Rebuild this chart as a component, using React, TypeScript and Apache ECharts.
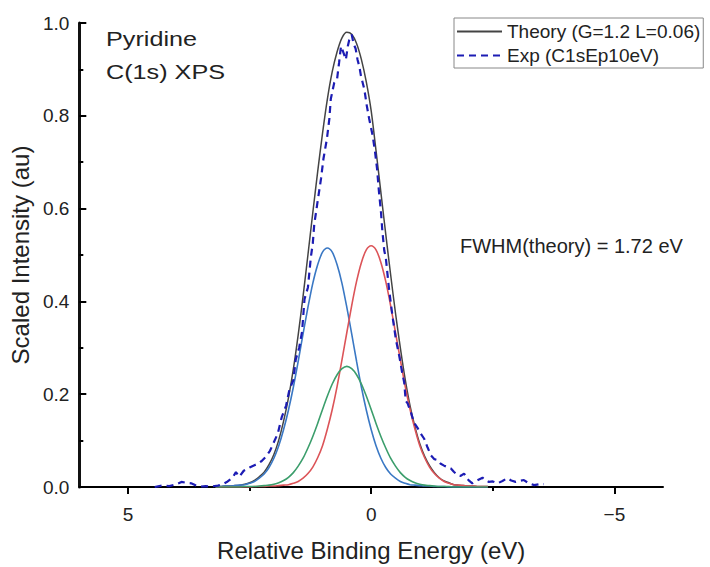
import React, { useEffect, useRef } from "react";
import * as echarts from "echarts";

// Relative binding energy grid for the theory curves (eV)
const energyGrid = [
  3.2, 3.1, 3.0, 2.9, 2.8, 2.7, 2.6, 2.5, 2.4, 2.3, 2.2, 2.1, 2.0, 1.9, 1.8, 1.7, 1.6, 1.5, 1.4,
  1.3, 1.2, 1.1, 1.0, 0.9, 0.8, 0.7, 0.6, 0.5, 0.4, 0.3, 0.2, 0.1, 0.0, -0.1, -0.2, -0.3, -0.4,
  -0.5, -0.6, -0.7, -0.8, -0.9, -1.0, -1.1, -1.2, -1.3, -1.4, -1.5, -1.6, -1.7, -1.8, -1.9, -2.0,
  -2.1, -2.2, -2.3, -2.4,
];

const theory = [
  0.001, 0.001, 0.002, 0.002, 0.003, 0.004, 0.006, 0.009, 0.014, 0.022, 0.032, 0.048, 0.07, 0.101,
  0.142, 0.192, 0.254, 0.328, 0.411, 0.5, 0.591, 0.679, 0.762, 0.836, 0.895, 0.938, 0.968, 0.98,
  0.976, 0.956, 0.921, 0.873, 0.811, 0.725, 0.635, 0.545, 0.458, 0.375, 0.3, 0.232, 0.175, 0.13,
  0.093, 0.066, 0.046, 0.031, 0.02, 0.013, 0.009, 0.005, 0.004, 0.003, 0.002, 0.002, 0.001, 0.001,
  0.001,
];

const peakBlue = [
  0.001, 0.001, 0.002, 0.002, 0.003, 0.004, 0.005, 0.008, 0.012, 0.019, 0.028, 0.042, 0.062, 0.089,
  0.124, 0.166, 0.215, 0.271, 0.33, 0.387, 0.439, 0.479, 0.506, 0.515, 0.506, 0.479, 0.439, 0.387,
  0.33, 0.271, 0.215, 0.166, 0.124, 0.089, 0.062, 0.042, 0.028, 0.019, 0.012, 0.008, 0.005, 0.004,
  0.003, 0.002, 0.002, 0.001, 0.001, 0.001, 0, 0, 0, 0, 0, 0, 0, 0, 0,
];

const peakRed = [
  0, 0, 0, 0, 0, 0, 0, 0, 0.001, 0.001, 0.001, 0.002, 0.002, 0.003, 0.004, 0.005, 0.008, 0.012,
  0.019, 0.029, 0.043, 0.063, 0.089, 0.125, 0.167, 0.217, 0.274, 0.333, 0.391, 0.443, 0.484, 0.511,
  0.52, 0.511, 0.484, 0.443, 0.391, 0.333, 0.274, 0.217, 0.167, 0.125, 0.089, 0.063, 0.043, 0.029,
  0.019, 0.012, 0.008, 0.005, 0.004, 0.003, 0.002, 0.002, 0.001, 0.001, 0.001,
];

const peakGreen = [
  0, 0, 0, 0, 0, 0, 0.001, 0.001, 0.001, 0.002, 0.003, 0.004, 0.006, 0.009, 0.014, 0.021, 0.031,
  0.045, 0.062, 0.084, 0.109, 0.137, 0.167, 0.196, 0.222, 0.242, 0.255, 0.26, 0.255, 0.242, 0.222,
  0.196, 0.167, 0.137, 0.109, 0.084, 0.062, 0.045, 0.031, 0.021, 0.014, 0.009, 0.006, 0.004, 0.003,
  0.002, 0.001, 0.001, 0.001, 0, 0, 0, 0, 0, 0, 0, 0,
];

// Experimental spectrum (C1s, Ep 10 eV)
const expEnergy = [
  4.45, 4.3, 4.15, 4.0, 3.9, 3.8, 3.7, 3.6, 3.5, 3.4, 3.3, 3.15, 3.05, 2.95, 2.85, 2.78, 2.71, 2.62,
  2.5, 2.4, 2.33, 2.25, 2.16, 2.08, 2.02, 1.92, 1.84, 1.75, 1.68, 1.6, 1.55, 1.48, 1.42, 1.37, 1.3,
  1.24, 1.2, 1.17, 1.1, 1.03, 0.98, 0.91, 0.86, 0.83, 0.76, 0.7, 0.66, 0.62, 0.59, 0.55, 0.52, 0.48,
  0.45, 0.4, 0.36, 0.32, 0.28, 0.24, 0.21, 0.14, 0.09, 0.04, -0.03, -0.08, -0.12, -0.16, -0.2,
  -0.23, -0.27, -0.3, -0.37, -0.44, -0.51, -0.58, -0.64, -0.68, -0.71, -0.75, -0.82, -0.88, -0.95,
  -1.02, -1.09, -1.16, -1.23, -1.3, -1.37, -1.43, -1.5, -1.57, -1.64, -1.7, -1.77, -1.84, -1.91,
  -2.0, -2.08, -2.18, -2.29, -2.36, -2.42, -2.5, -2.6, -2.7, -2.8, -2.88, -2.97, -3.05, -3.14,
  -3.24, -3.35, -3.45, -3.55,
];

const expIntensity = [
  0.0, 0.003, 0.002, 0.006, 0.011, 0.009, 0.008, 0.003, 0.001, 0.002, 0.001, 0.003, 0.006, 0.012,
  0.02, 0.032, 0.022, 0.035, 0.042, 0.047, 0.05, 0.056, 0.066, 0.078, 0.092, 0.115, 0.15, 0.175,
  0.21, 0.23, 0.275, 0.3, 0.335, 0.405, 0.43, 0.495, 0.525, 0.566, 0.616, 0.665, 0.708, 0.75, 0.793,
  0.836, 0.871, 0.88, 0.914, 0.95, 0.942, 0.93, 0.921, 0.95, 0.964, 0.975, 0.955, 0.945, 0.921,
  0.905, 0.886, 0.857, 0.822, 0.793, 0.758, 0.722, 0.687, 0.637, 0.595, 0.552, 0.509, 0.495, 0.424,
  0.367, 0.317, 0.281, 0.245, 0.225, 0.186, 0.18, 0.16, 0.139, 0.128, 0.115, 0.104, 0.085, 0.068,
  0.06, 0.058, 0.05, 0.046, 0.043, 0.04, 0.033, 0.026, 0.024, 0.029, 0.015, 0.008, 0.014, 0.02,
  0.014, 0.011, 0.012, 0.008, 0.013, 0.019, 0.014, 0.011, 0.013, 0.015, 0.008, 0.004, 0.006, 0.006,
];

const xLabelValues = [5, 0, -5];
const xMinorValues = [2.5, -2.5];

const THEORY_NAME = "Theory (G=1.2 L=0.06)";
const EXP_NAME = "Exp (C1sEp10eV)";
const FONT = "'Liberation Sans', Arial, Helvetica, sans-serif";

function pairs(xs: number[], ys: number[]) {
  return xs.map((x, i) => [x, ys[i]]);
}

export default function App() {
  const ref = useRef<HTMLDivElement>(null);

  useEffect(() => {
    if (!ref.current) return;
    const chart = echarts.init(ref.current, undefined, { renderer: "svg" });
    const fmtX = (v: number) => (v < 0 ? "\u2212" + Math.abs(v) : String(v));
    const lineBase = { type: "line", symbol: "none", showSymbol: false, xAxisIndex: 0, yAxisIndex: 0 };
    const tickStyle = { color: "#000000", width: 2 };
    chart.setOption({
      animation: false,
      grid: { left: 79, right: 47, top: 23, bottom: 75 },
      legend: {
        orient: "vertical",
        left: 454,
        top: 18,
        itemWidth: 45,
        itemHeight: 14,
        itemGap: 5,
        padding: [4, 3, 3, 2],
        borderColor: "#888888",
        borderWidth: 1,
        itemStyle: { opacity: 0 },
        data: [THEORY_NAME, EXP_NAME],
        textStyle: { fontSize: 19, fontFamily: FONT, color: "#222222" },
      },
      xAxis: [
        {
          type: "value",
          min: -6,
          max: 6,
          inverse: true,
          position: "bottom",
          name: "Relative Binding Energy (eV)",
          nameLocation: "middle",
          nameGap: 51,
          nameTextStyle: { fontSize: 24, fontFamily: FONT, color: "#222222" },
          axisLine: { show: true, onZero: false, lineStyle: { color: "#000000", width: 2 } },
          axisTick: { show: true, customValues: xLabelValues, length: 7, lineStyle: tickStyle },
          axisLabel: {
            customValues: xLabelValues,
            formatter: fmtX,
            fontSize: 19,
            fontFamily: FONT,
            color: "#222222",
            margin: 18,
          },
          splitLine: { show: false },
        },
        {
          type: "value",
          min: -6,
          max: 6,
          inverse: true,
          position: "bottom",
          offset: 0,
          axisLine: { show: false, onZero: false },
          axisTick: { show: true, customValues: xMinorValues, length: 4, lineStyle: tickStyle },
          axisLabel: { show: false },
          splitLine: { show: false },
        },
      ],
      yAxis: {
        type: "value",
        min: 0,
        max: 1,
        interval: 0.2,
        name: "Scaled Intensity (au)",
        nameLocation: "middle",
        nameGap: 44,
        nameTextStyle: { fontSize: 24, fontFamily: FONT, color: "#222222" },
        axisLine: { show: true, onZero: false, lineStyle: { color: "#111111", width: 3 } },
        axisTick: { show: true, inside: true, length: 7, lineStyle: tickStyle },
        minorTick: { show: true, splitNumber: 2, length: 4, lineStyle: tickStyle },
        axisLabel: {
          formatter: (v: number) => v.toFixed(1),
          fontSize: 19,
          fontFamily: FONT,
          color: "#222222",
          margin: 10,
        },
        splitLine: { show: false },
      },
      series: [
        {
          ...lineBase,
          name: THEORY_NAME,
          smooth: 0.3,
          data: pairs(energyGrid, theory),
          lineStyle: { color: "#444444", width: 1.5 },
          itemStyle: { color: "#444444" },
        },
        {
          ...lineBase,
          name: "Peak 1",
          smooth: 0.3,
          data: pairs(energyGrid, peakBlue),
          lineStyle: { color: "#3a78c4", width: 1.6 },
          itemStyle: { color: "#3a78c4" },
        },
        {
          ...lineBase,
          name: "Peak 2",
          smooth: 0.3,
          data: pairs(energyGrid, peakRed),
          lineStyle: { color: "#dc5458", width: 1.6 },
          itemStyle: { color: "#dc5458" },
        },
        {
          ...lineBase,
          name: "Peak 3",
          smooth: 0.3,
          data: pairs(energyGrid, peakGreen),
          lineStyle: { color: "#3c9e6c", width: 1.6 },
          itemStyle: { color: "#3c9e6c" },
        },
        {
          ...lineBase,
          name: EXP_NAME,
          smooth: false,
          data: pairs(expEnergy, expIntensity),
          lineStyle: { color: "#1c1cb4", width: 2.2, type: [7, 5] },
          itemStyle: { color: "#1c1cb4" },
        },
      ],
      graphic: [
        {
          type: "text",
          x: 106,
          y: 39,
          scaleX: 1.2,
          style: {
            text: "Pyridine",
            font: `21px ${FONT}`,
            fill: "#222222",
            textAlign: "left",
            textVerticalAlign: "middle",
          },
        },
        {
          type: "text",
          x: 106,
          y: 72,
          scaleX: 1.2,
          style: {
            text: "C(1s) XPS",
            font: `21px ${FONT}`,
            fill: "#222222",
            textAlign: "left",
            textVerticalAlign: "middle",
          },
        },
        {
          type: "text",
          x: 460,
          y: 246,
          style: {
            text: "FWHM(theory) = 1.72 eV",
            font: `20px ${FONT}`,
            fill: "#222222",
            textAlign: "left",
            textVerticalAlign: "middle",
          },
        },
      ],
    });
    return () => chart.dispose();
  }, []);

  return <div ref={ref} style={{ width: 710, height: 567, position: "absolute", left: 0, top: 0 }} />;
}
